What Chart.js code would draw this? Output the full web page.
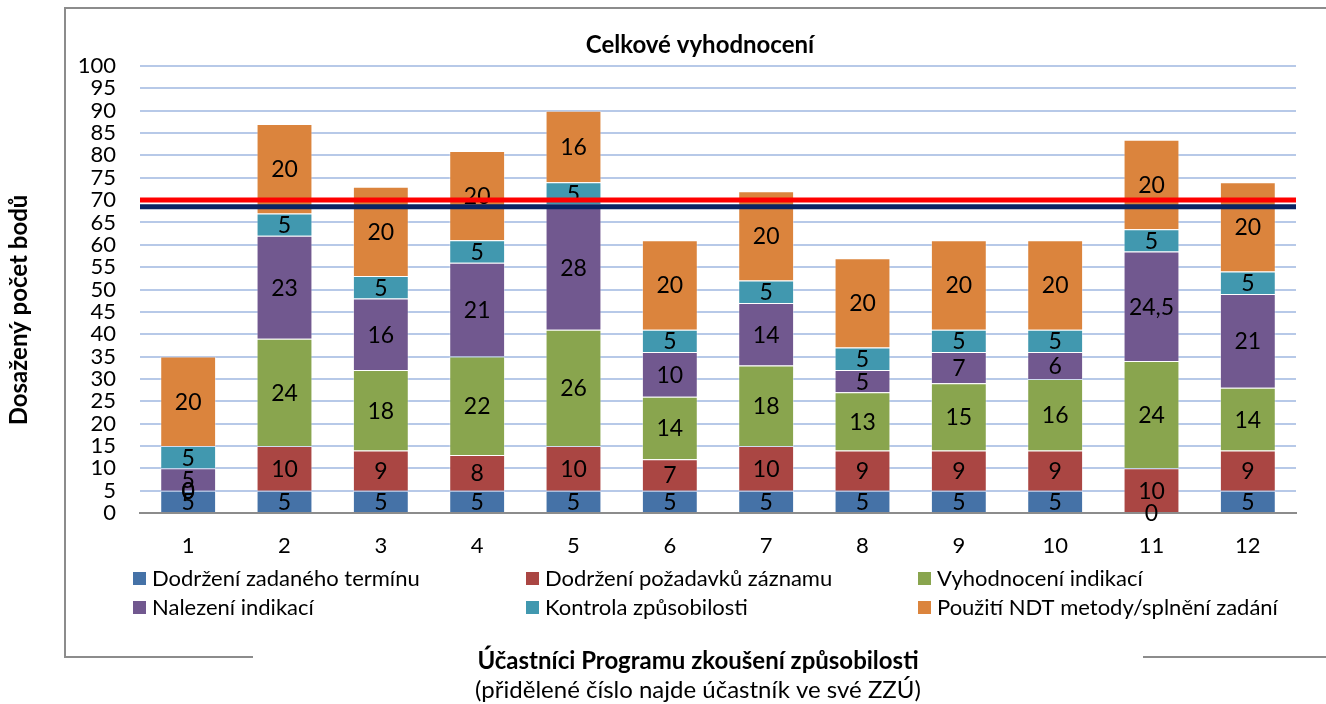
<!DOCTYPE html>
<html>
<head>
<meta charset="utf-8">
<script src="https://cdn.jsdelivr.net/npm/chart.js@4"></script>
<style>
html,body{margin:0;padding:0;background:#fff;}
canvas{display:block;}
</style>
</head>
<body>
<canvas id="c" width="1326" height="704"></canvas>
<script>
const categories = ['1','2','3','4','5','6','7','8','9','10','11','12'];
const seriesNames = ['Dodržení zadaného termínu','Dodržení požadavků záznamu','Vyhodnocení indikací','Nalezení indikací','Kontrola způsobilosti','Použití NDT metody/splnění zadání'];
const termin    = [5,5,5,5,5,5,5,5,5,5,0,5];
const zaznam    = [0,10,9,8,10,7,10,9,9,9,10,9];
const vyhodnoc  = [0,24,18,22,26,14,18,13,15,16,24,14];
const nalezeni  = [5,23,16,21,28,10,14,5,7,6,24.5,21];
const kontrola  = [5,5,5,5,5,5,5,5,5,5,5,5];
const pouziti   = [20,20,20,20,16,20,20,20,20,20,20,20];
const limits = [70, 68.5];
const limitColors = ['#ff0000','#0b2463'];
const colors = ['#4572a7','#aa4643','#89a54e','#71588f','#4198af','#db843d'];
const yTicks = {min:0, max:100, step:5};
const chartTitle = 'Celkové vyhodnocení';
const yTitle = 'Dosažený počet bodů';
const xTitle = 'Účastníci Programu zkoušení způsobilosti';
const xSubtitle = '(přidělené číslo najde účastník ve své ZZÚ)';

const FONT = 'Lato, "Open Sans", sans-serif';
const values = [termin, zaznam, vyhodnoc, nalezeni, kontrola, pouziti];

const datasets = values.map((v,i)=>({
  label: seriesNames[i],
  data: v,
  backgroundColor: colors[i],
  borderColor: 'rgba(255,255,255,0.35)',
  borderWidth: 1,
  barPercentage: 0.58,
  categoryPercentage: 1.0
}));

const fmt = v => String(v).replace('.', ',');

const decor = {
  id: 'decor',
  afterDatasetsDraw(chart) {
    const ctx = chart.ctx;
    const ys = chart.scales.y;
    const area = chart.chartArea;
    ctx.save();
    ctx.fillStyle = '#000';
    ctx.font = '23px ' + FONT;
    ctx.textAlign = 'center';
    ctx.textBaseline = 'middle';
    chart.data.datasets.forEach((ds, di) => {
      const meta = chart.getDatasetMeta(di);
      meta.data.forEach((el, i) => {
        const p = el.getProps(['x','y','base'], true);
        ctx.fillText(fmt(ds.data[i]), p.x, (p.y + p.base) / 2 + 1);
      });
    });
    limits.forEach((v, i) => {
      const y = ys.getPixelForValue(v);
      ctx.strokeStyle = limitColors[i];
      ctx.lineWidth = 5;
      ctx.beginPath();
      ctx.moveTo(area.left, y);
      ctx.lineTo(area.right, y);
      ctx.stroke();
    });
    ctx.restore();
  },
  afterDraw(chart) {
    const ctx = chart.ctx;
    ctx.save();
    ctx.strokeStyle = '#8c8c8c';
    ctx.lineWidth = 2;
    ctx.beginPath();
    ctx.moveTo(253, 657); ctx.lineTo(65, 657); ctx.lineTo(65, 8); ctx.lineTo(1330, 8);
    ctx.moveTo(1143, 657); ctx.lineTo(1330, 657);
    ctx.stroke();
    ctx.fillStyle = '#000';
    ctx.textAlign = 'center';
    ctx.textBaseline = 'middle';
    ctx.font = 'bold 24px ' + FONT;
    ctx.fillText(chartTitle, 700, 45);
    ctx.font = 'bold 24px ' + FONT;
    ctx.fillText(xTitle, 698, 661);
    ctx.font = '24px ' + FONT;
    ctx.fillText(xSubtitle, 698, 690);
    ctx.save();
    ctx.translate(19, 310);
    ctx.rotate(-Math.PI/2);
    ctx.font = 'bold 24px ' + FONT;
    ctx.fillText(yTitle, 0, 0);
    ctx.restore();
    const cols = [133, 526, 918];
    const rows = [579, 608];
    ctx.font = '22px ' + FONT;
    ctx.textAlign = 'left';
    chart.data.datasets.forEach((ds, i) => {
      const x = cols[i % 3], y = rows[Math.floor(i / 3)];
      ctx.fillStyle = ds.backgroundColor;
      ctx.fillRect(x, y - 7, 13, 13);
      ctx.fillStyle = '#000';
      ctx.fillText(ds.label, x + 19, y);
    });
    ctx.restore();
  }
};

new Chart(document.getElementById('c'), {
  type: 'bar',
  data: { labels: categories, datasets },
  options: {
    responsive: false,
    animation: false,
    devicePixelRatio: 1,
    layout: { padding: { left: 0, top: 66, right: 30, bottom: 151 } },
    plugins: { legend: { display: false }, tooltip: { enabled: false }, title: { display: false } },
    scales: {
      x: {
        stacked: true,
        grid: { display: false, drawTicks: false },
        border: { display: true, color: '#8c8c8c', width: 2 },
        ticks: { color: '#000', font: { family: FONT, size: 22 }, padding: 20 },
        afterFit(s) { s.height = 40; }
      },
      y: {
        stacked: true,
        min: yTicks.min, max: yTicks.max,
        grid: { color: '#b7c9e8', lineWidth: 2, drawTicks: false },
        border: { display: false },
        ticks: { stepSize: yTicks.step, color: '#000', font: { family: FONT, size: 22 }, padding: 24, autoSkip: false },
        afterFit(s) { s.width = 140; }
      }
    }
  },
  plugins: [decor]
});
</script>
</body>
</html>
